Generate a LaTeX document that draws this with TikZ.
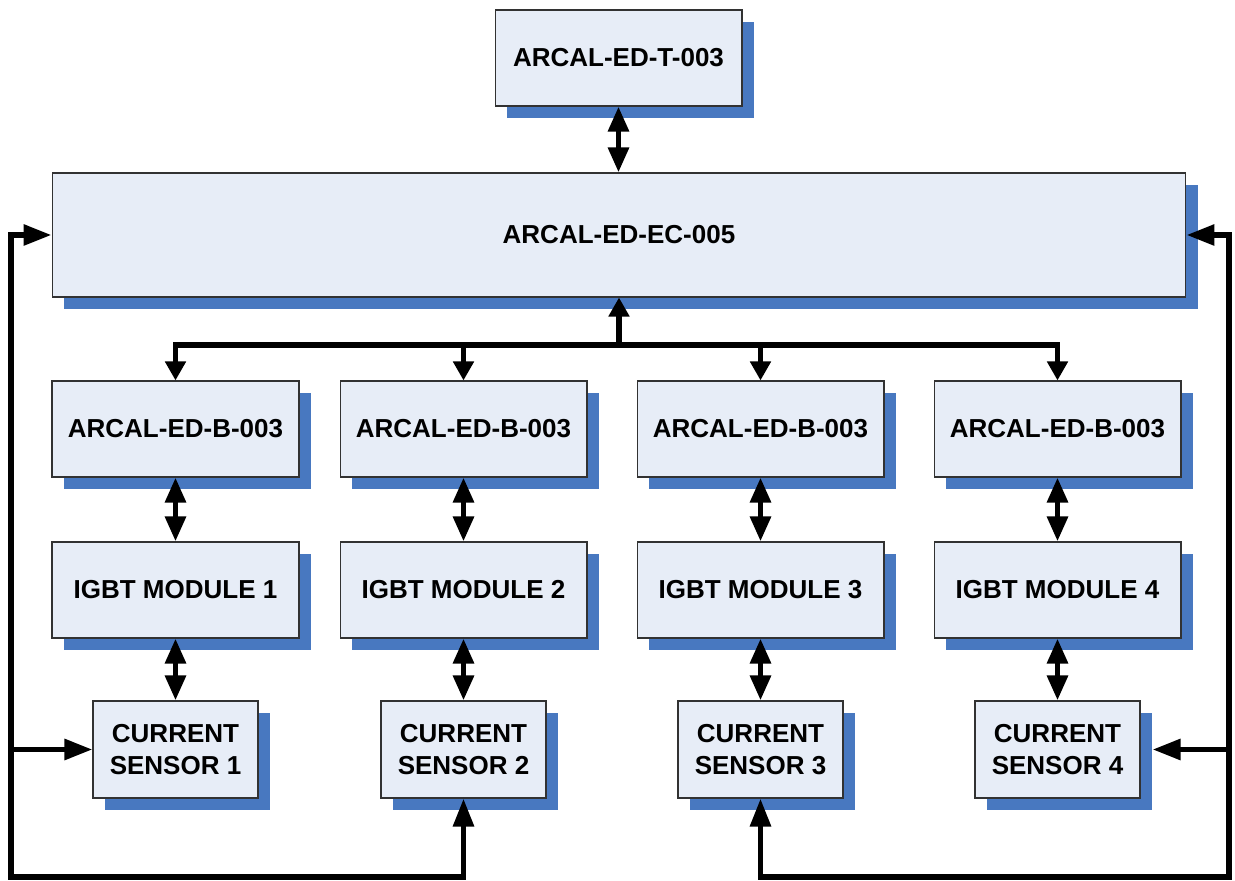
\documentclass[tikz,border=0pt]{standalone}
\usepackage{fontspec}
\setmainfont{Liberation Sans}
\usetikzlibrary{arrows.meta,shadows}
\definecolor{boxfill}{RGB}{231,237,247}
\definecolor{shadowblue}{RGB}{72,120,192}
\definecolor{boxline}{RGB}{50,50,50}
\tikzset{
  blk/.style={draw=boxline, line width=0.6pt, fill=boxfill, align=center,
    font=\fontsize{14.8}{18.2}\selectfont\bfseries, inner sep=0pt,
    drop shadow={shadow xshift=0.24cm, shadow yshift=-0.24cm, fill=shadowblue, opacity=1}},
  wideblk/.style={blk, minimum width=4.94cm, minimum height=1.92cm},
  sensblk/.style={blk, minimum width=3.3cm, minimum height=1.94cm},
  conn/.style={line width=0.115cm, black},
  tipbus/.tip={Triangle[length=0.38cm, width=0.4cm]},
  tipdbl/.tip={Triangle[length=0.5cm, width=0.4cm]},
  tipfb/.tip={Triangle[length=0.56cm, width=0.4cm]},
}
\begin{document}
\begin{tikzpicture}[x=0.02cm, y=-0.02cm]
\useasboundingbox (0,0) rectangle (1235,881);
% nodes
\node[wideblk] (T) at (618.5,58) {ARCAL-ED-T-003};
\node[blk, minimum width=22.68cm, minimum height=2.48cm] (EC) at (619,235) {ARCAL-ED-EC-005};
\foreach \i/\x in {1/175.5, 2/463.5, 3/760.5, 4/1057.5}{
  \node[wideblk] (B\i) at (\x,429) {ARCAL-ED-B-003};
  \node[wideblk] (I\i) at (\x,590) {IGBT MODULE \i};
}
\foreach \i/\x in {1/175.5, 2/463.5, 3/760.5, 4/1057.5}{
  \node[sensblk] (S\i) at (\x,749.5) {CURRENT\\SENSOR \i};
}
% T <-> EC
\draw[conn, {tipdbl}-{tipdbl}] (T.south) -- (T.south |- EC.north);
% bus
\coordinate (bus) at (619,345);
\draw[conn, -{tipbus}] (bus) -- (bus |- EC.south);
\draw[conn, {tipbus}-{tipbus}] (B1.north) -- (B1.north |- bus) -- (B4.north |- bus) -- (B4.north);
\draw[conn, -{tipbus}] (B2.north |- bus) -- (B2.north);
\draw[conn, -{tipbus}] (B3.north |- bus) -- (B3.north);
% vertical doubles
\foreach \i in {1,2,3,4}{
  \draw[conn, {tipdbl}-{tipdbl}] (B\i.south) -- (I\i.north);
  \draw[conn, {tipdbl}-{tipdbl}] (I\i.south) -- (S\i.north);
}
% feedback left
\coordinate (xl) at (11,877);
\draw[conn, {tipfb}-{tipfb}] (EC.west) -- (EC.west -| xl) -- (xl) -- (xl -| S2.south) -- (S2.south);
\draw[conn, -{tipfb}] (S1.west -| xl) -- (S1.west);
% feedback right
\coordinate (xr) at (1229,877);
\draw[conn, {tipfb}-{tipfb}] (EC.east) -- (EC.east -| xr) -- (xr) -- (xr -| S3.south) -- (S3.south);
\coordinate (s4sh) at ([xshift=0.24cm]S4.east);
\draw[conn, -{tipfb}] (S4.east -| xr) -- (s4sh);
\end{tikzpicture}
\end{document}
